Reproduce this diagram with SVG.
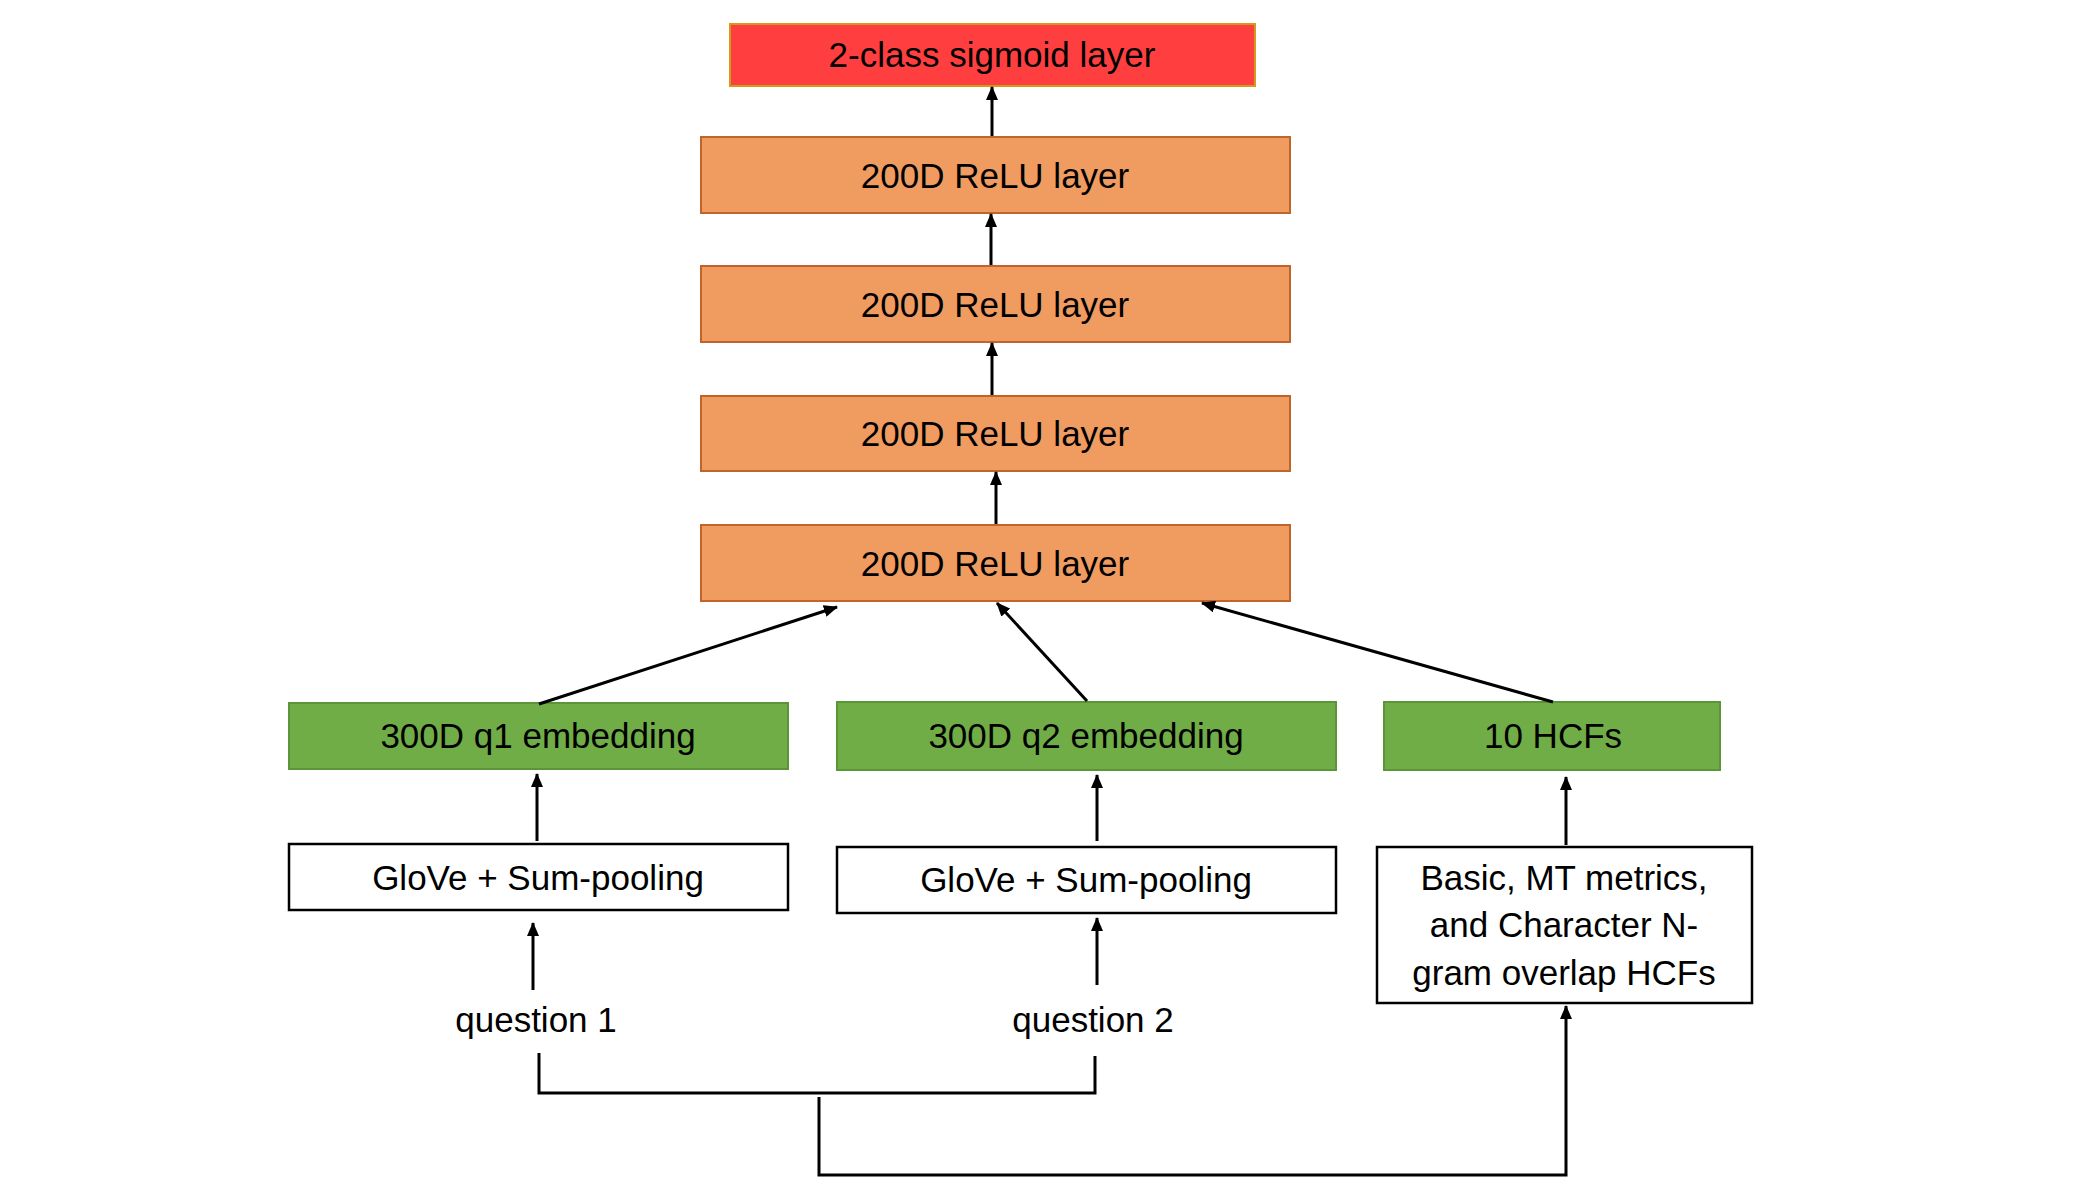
<svg xmlns="http://www.w3.org/2000/svg" width="2100" height="1181" viewBox="0 0 2100 1181">
<style>
text{font-family:"Liberation Sans",Arial,sans-serif;font-size:35px;fill:#000;text-anchor:middle}
.red{fill:#FF3F3F;stroke:#D39A1C;stroke-width:2}
.orange{fill:#F09B60;stroke:#C0652A;stroke-width:2}
.green{fill:#70AD47;stroke:#5A9638;stroke-width:2}
.white{fill:#fff;stroke:#000;stroke-width:2.5}
.c{fill:none;stroke:#000;stroke-width:3}
</style>
<defs>
<marker id="ah" markerUnits="userSpaceOnUse" markerWidth="14" markerHeight="12" viewBox="0 0 14 12" refX="13" refY="6" orient="auto">
<path d="M0,0 L14,6 L0,12 Z" fill="#000"/>
</marker>
</defs>
<rect width="2100" height="1181" fill="#fff"/>
<g id="sigmoid"><rect class="red" x="730" y="24" width="525" height="62"/><text x="992" y="67">2-class sigmoid layer</text></g>
<g id="relu1"><rect class="orange" x="701" y="137" width="589" height="76"/><text x="995" y="188">200D ReLU layer</text></g>
<g id="relu2"><rect class="orange" x="701" y="266" width="589" height="76"/><text x="995" y="317">200D ReLU layer</text></g>
<g id="relu3"><rect class="orange" x="701" y="396" width="589" height="75"/><text x="995" y="446">200D ReLU layer</text></g>
<g id="relu4"><rect class="orange" x="701" y="525" width="589" height="76"/><text x="995" y="576">200D ReLU layer</text></g>
<g id="q1emb"><rect class="green" x="289" y="703" width="499" height="66"/><text x="538" y="748">300D q1 embedding</text></g>
<g id="q2emb"><rect class="green" x="837" y="702" width="499" height="68"/><text x="1086" y="748">300D q2 embedding</text></g>
<g id="hcf"><rect class="green" x="1384" y="702" width="336" height="68"/><text x="1553" y="748">10 HCFs</text></g>
<g id="glove1"><rect class="white" x="289" y="844" width="499" height="66"/><text x="538" y="890">GloVe + Sum-pooling</text></g>
<g id="glove2"><rect class="white" x="837" y="847" width="499" height="66"/><text x="1086" y="892">GloVe + Sum-pooling</text></g>
<g id="basic"><rect class="white" x="1377" y="847" width="375" height="156"/><text x="1564" y="890">Basic, MT metrics,</text><text x="1564" y="937">and Character N-</text><text x="1564" y="985">gram overlap HCFs</text></g>
<g id="question1"><text x="536" y="1032">question 1</text></g>
<g id="question2"><text x="1093" y="1032">question 2</text></g>
<g id="connectors">
<line class="c" x1="992" y1="136" x2="992" y2="87" marker-end="url(#ah)"/>
<line class="c" x1="991" y1="265" x2="991" y2="214" marker-end="url(#ah)"/>
<line class="c" x1="992" y1="395" x2="992" y2="343" marker-end="url(#ah)"/>
<line class="c" x1="996" y1="524" x2="996" y2="472" marker-end="url(#ah)"/>
<line class="c" x1="539" y1="704" x2="837" y2="607" marker-end="url(#ah)"/>
<line class="c" x1="1087" y1="701" x2="997" y2="603" marker-end="url(#ah)"/>
<line class="c" x1="1553" y1="702" x2="1202" y2="603" marker-end="url(#ah)"/>
<line class="c" x1="537" y1="841" x2="537" y2="774" marker-end="url(#ah)"/>
<line class="c" x1="533" y1="990" x2="533" y2="923" marker-end="url(#ah)"/>
<line class="c" x1="1097" y1="841" x2="1097" y2="775" marker-end="url(#ah)"/>
<line class="c" x1="1097" y1="985" x2="1097" y2="918" marker-end="url(#ah)"/>
<line class="c" x1="1566" y1="845" x2="1566" y2="777" marker-end="url(#ah)"/>
<polyline class="c" points="539,1053 539,1093 1095,1093 1095,1056"/>
<polyline class="c" points="819,1097 819,1175 1566,1175 1566,1006" marker-end="url(#ah)"/>
</g>
</svg>
